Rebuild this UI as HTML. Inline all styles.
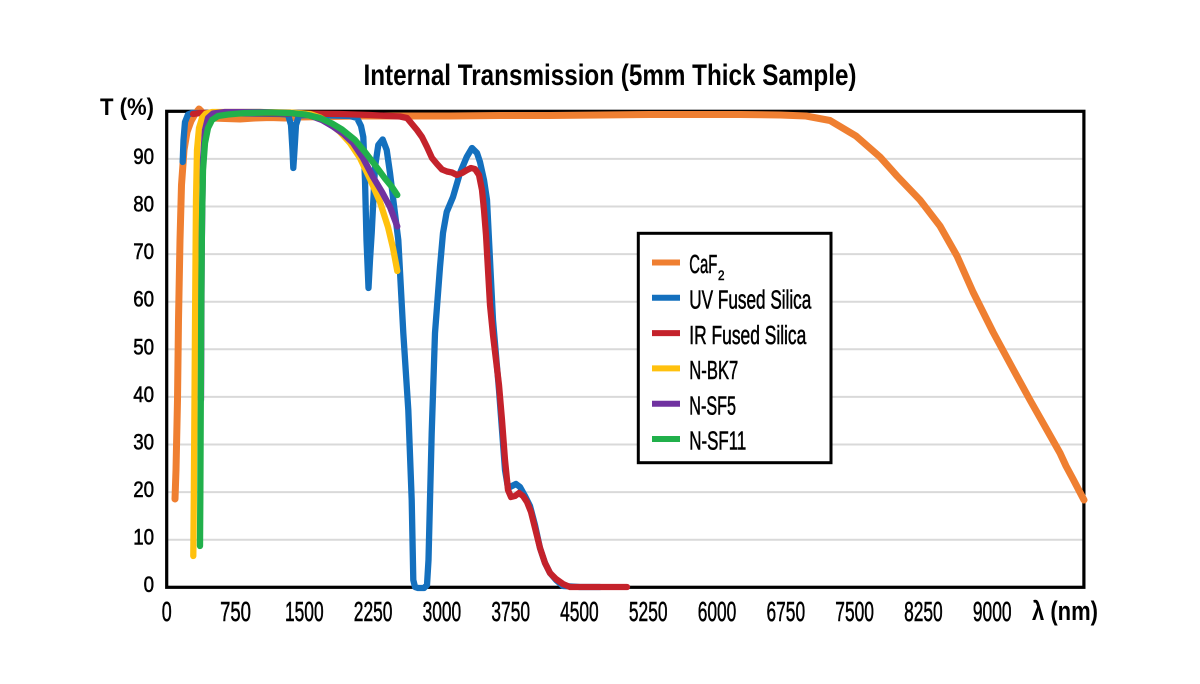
<!DOCTYPE html>
<html>
<head>
<meta charset="utf-8">
<style>
  html, body { margin: 0; padding: 0; background: #ffffff; }
  svg { display: block; }
  text { font-family: "Liberation Sans", "DejaVu Sans", sans-serif; fill: #000; }
  .w { stroke: #000; stroke-width: 0.55; }
</style>
</head>
<body>
<svg width="1200" height="684" viewBox="0 0 1200 684" xmlns="http://www.w3.org/2000/svg">
  <rect x="0" y="0" width="1200" height="684" fill="#ffffff"/>

  <!-- Title -->
  <text x="363.5" y="85" font-size="30" font-weight="bold" textLength="493" lengthAdjust="spacingAndGlyphs">Internal Transmission (5mm Thick Sample)</text>

  <!-- Gridlines -->
  <g stroke="#d9d9d9" stroke-width="2">
    <line x1="166.7" y1="539.7" x2="1083.9" y2="539.7"/>
    <line x1="166.7" y1="492.1" x2="1083.9" y2="492.1"/>
    <line x1="166.7" y1="444.5" x2="1083.9" y2="444.5"/>
    <line x1="166.7" y1="396.9" x2="1083.9" y2="396.9"/>
    <line x1="166.7" y1="349.3" x2="1083.9" y2="349.3"/>
    <line x1="166.7" y1="301.7" x2="1083.9" y2="301.7"/>
    <line x1="166.7" y1="254.1" x2="1083.9" y2="254.1"/>
    <line x1="166.7" y1="206.5" x2="1083.9" y2="206.5"/>
    <line x1="166.7" y1="158.9" x2="1083.9" y2="158.9"/>
  </g>

  <!-- Frame -->
  <rect x="166.7" y="111.3" width="917.2" height="476" fill="none" stroke="#000" stroke-width="3.2"/>

  <!-- Y labels -->
  <g font-size="22" class="w">
    <text transform="translate(154,592) scale(0.85,1)" text-anchor="end">0</text>
    <text transform="translate(154,544.7) scale(0.85,1)" text-anchor="end">10</text>
    <text transform="translate(154,497.1) scale(0.85,1)" text-anchor="end">20</text>
    <text transform="translate(154,449.5) scale(0.85,1)" text-anchor="end">30</text>
    <text transform="translate(154,401.9) scale(0.85,1)" text-anchor="end">40</text>
    <text transform="translate(154,354.3) scale(0.85,1)" text-anchor="end">50</text>
    <text transform="translate(154,306.7) scale(0.85,1)" text-anchor="end">60</text>
    <text transform="translate(154,259.1) scale(0.85,1)" text-anchor="end">70</text>
    <text transform="translate(154,211.5) scale(0.85,1)" text-anchor="end">80</text>
    <text transform="translate(154,163.9) scale(0.85,1)" text-anchor="end">90</text>
  </g>
  <text x="100" y="115" font-size="24" font-weight="bold" textLength="54" lengthAdjust="spacingAndGlyphs">T (%)</text>

  <!-- X labels -->
  <g font-size="28" class="w">
    <text transform="translate(166.7,621) scale(0.64,1)" text-anchor="middle">0</text>
    <text transform="translate(235.5,621) scale(0.66,1)" text-anchor="middle">750</text>
    <text transform="translate(304.3,621) scale(0.62,1)" text-anchor="middle">1500</text>
    <text transform="translate(373.1,621) scale(0.62,1)" text-anchor="middle">2250</text>
    <text transform="translate(441.9,621) scale(0.62,1)" text-anchor="middle">3000</text>
    <text transform="translate(510.7,621) scale(0.62,1)" text-anchor="middle">3750</text>
    <text transform="translate(579.4,621) scale(0.62,1)" text-anchor="middle">4500</text>
    <text transform="translate(648.2,621) scale(0.62,1)" text-anchor="middle">5250</text>
    <text transform="translate(717.0,621) scale(0.62,1)" text-anchor="middle">6000</text>
    <text transform="translate(785.8,621) scale(0.62,1)" text-anchor="middle">6750</text>
    <text transform="translate(854.6,621) scale(0.62,1)" text-anchor="middle">7500</text>
    <text transform="translate(923.4,621) scale(0.62,1)" text-anchor="middle">8250</text>
    <text transform="translate(992.2,621) scale(0.62,1)" text-anchor="middle">9000</text>
  </g>
  <text x="1032" y="620" font-size="27" font-weight="bold" textLength="66" lengthAdjust="spacingAndGlyphs">λ (nm)</text>

  <!-- Series -->
  <g fill="none" stroke-linejoin="round" stroke-linecap="round">
    <!-- CaF2 -->
    <polyline stroke="#ef7f31" stroke-width="7" points="175,499 176,470 177.5,400 178.5,320 180,240 181.5,185 184,150 187,132 191,121 195,114 199,109 202,112 205,117 212,118 225,118.5 240,119 255,118 270,117.5 285,118 300,117 330,116.5 360,116 400,116 450,116 500,115.5 550,115.5 600,115 650,114.5 700,114.5 740,114.5 780,115 806,116 830,120.5 856,136 880,157 897,176 920,200 940,226 957,256 973,292 993,332 1013,369 1030,400 1047,430 1060,453 1066,466 1073,479 1084,500"/>
    <!-- UV Fused Silica -->
    <polyline stroke="#1470be" stroke-width="6.3" points="182.7,162 183.5,140 185,122 188,114.5 192,113 200,113 250,113.5 280,114 288,114.5 291,125 292.5,150 293.3,168 294.5,150 296,125 299,115.5 310,115 330,115.5 350,116 357,118 361,126 363.3,137 365,180 366.5,240 368.5,288 370,260 371.7,233 375,167 378.3,145 382.7,139.5 386.7,150 390,173 393.3,200 398.3,240 403.3,333 408.3,410 411.7,500 413.3,580 415,587 418,588 424,588 427,585 428.5,560 430,500 431.7,433 435,333 440,267 443,233 446.7,212 453,197 460,173 466.7,157 472,148 477,153 480,162 484,180 487,200 489,240 491,280 493,320 496,355 499,390 502,430 505,470 508,488 512,486 516,484 520,487 525,496 530,506 535,525 540,548 545,563 550,573 556,580 563,586 580,587 600,587"/>
    <!-- IR Fused Silica -->
    <polyline stroke="#c4222b" stroke-width="6.3" points="193,114 200,113 250,113 300,113.5 340,114 370,115 400,116.5 407,118 412,124 417,130 422,137 427,147 432,158 437,164 442,169.5 447,171.5 452,172.5 457,175 462,173 467,170 471,168 475,169 479,175 482,190 484,210 486,235 488,270 490,305 493,335 496,360 499,385 502,420 505,460 508,490 511,497 515,496 519,493 523,496 527,502 531,512 535,528 540,548 545,563 550,573 556,579 563,584 570,587 627,587"/>
    <!-- N-BK7 -->
    <polyline stroke="#ffc10e" stroke-width="6.3" points="193.3,556 193.8,500 194.5,400 195.2,300 196,200 197,150 199,128 202,118 206,113.5 212,112 230,112 260,112 290,112.5 310,114 320,117.5 330,123.5 340,132 350,143 360,158 370,179 380,202 388,227 393,248 397.3,271"/>
    <!-- N-SF5 -->
    <polyline stroke="#7032a0" stroke-width="6.3" points="201,400 201.7,250 203,160 205,130 208,118 213,113.5 225,112 260,112 290,113 310,115.5 322,120 333,126.5 343,133.5 353,143 363,158 373,177 382,192 390,207 397.3,226.5"/>
    <!-- N-SF11 -->
    <polyline stroke="#21b04b" stroke-width="6.3" points="200,546 200.3,500 200.8,400 201.3,300 202,220 203,170 205,143 208,128 212,120 218,116 228,114.5 245,113 270,112.5 290,113 305,114.5 320,118 332,123.5 342,129.5 355,140 365,152 375,165 385,178.5 392,187 397.3,195"/>
  </g>

  <!-- Legend -->
  <rect x="638.3" y="233.3" width="192.7" height="229.4" fill="#ffffff" stroke="#000" stroke-width="3"/>
  <g stroke-width="6">
    <line x1="652" y1="262.5" x2="680" y2="262.5" stroke="#ef7f31"/>
    <line x1="652" y1="297.8" x2="680" y2="297.8" stroke="#1470be"/>
    <line x1="652" y1="333.1" x2="680" y2="333.1" stroke="#c4222b"/>
    <line x1="652" y1="368.4" x2="680" y2="368.4" stroke="#ffc10e"/>
    <line x1="652" y1="403.7" x2="680" y2="403.7" stroke="#7032a0"/>
    <line x1="652" y1="439" x2="680" y2="439" stroke="#21b04b"/>
  </g>
  <g font-size="25.5" class="w">
    <text x="689.3" y="273.2" textLength="28" lengthAdjust="spacingAndGlyphs">CaF</text>
    <text x="718" y="280" font-size="14" textLength="6.5" lengthAdjust="spacingAndGlyphs">2</text>
    <text x="689.3" y="308.5" textLength="122" lengthAdjust="spacingAndGlyphs">UV Fused Silica</text>
    <text x="689.3" y="343.8" textLength="117" lengthAdjust="spacingAndGlyphs">IR Fused Silica</text>
    <text x="689.3" y="379.1" textLength="49" lengthAdjust="spacingAndGlyphs">N-BK7</text>
    <text x="689.3" y="414.4" textLength="46.7" lengthAdjust="spacingAndGlyphs">N-SF5</text>
    <text x="689.3" y="449.7" textLength="57" lengthAdjust="spacingAndGlyphs">N-SF11</text>
  </g>
</svg>
</body>
</html>
